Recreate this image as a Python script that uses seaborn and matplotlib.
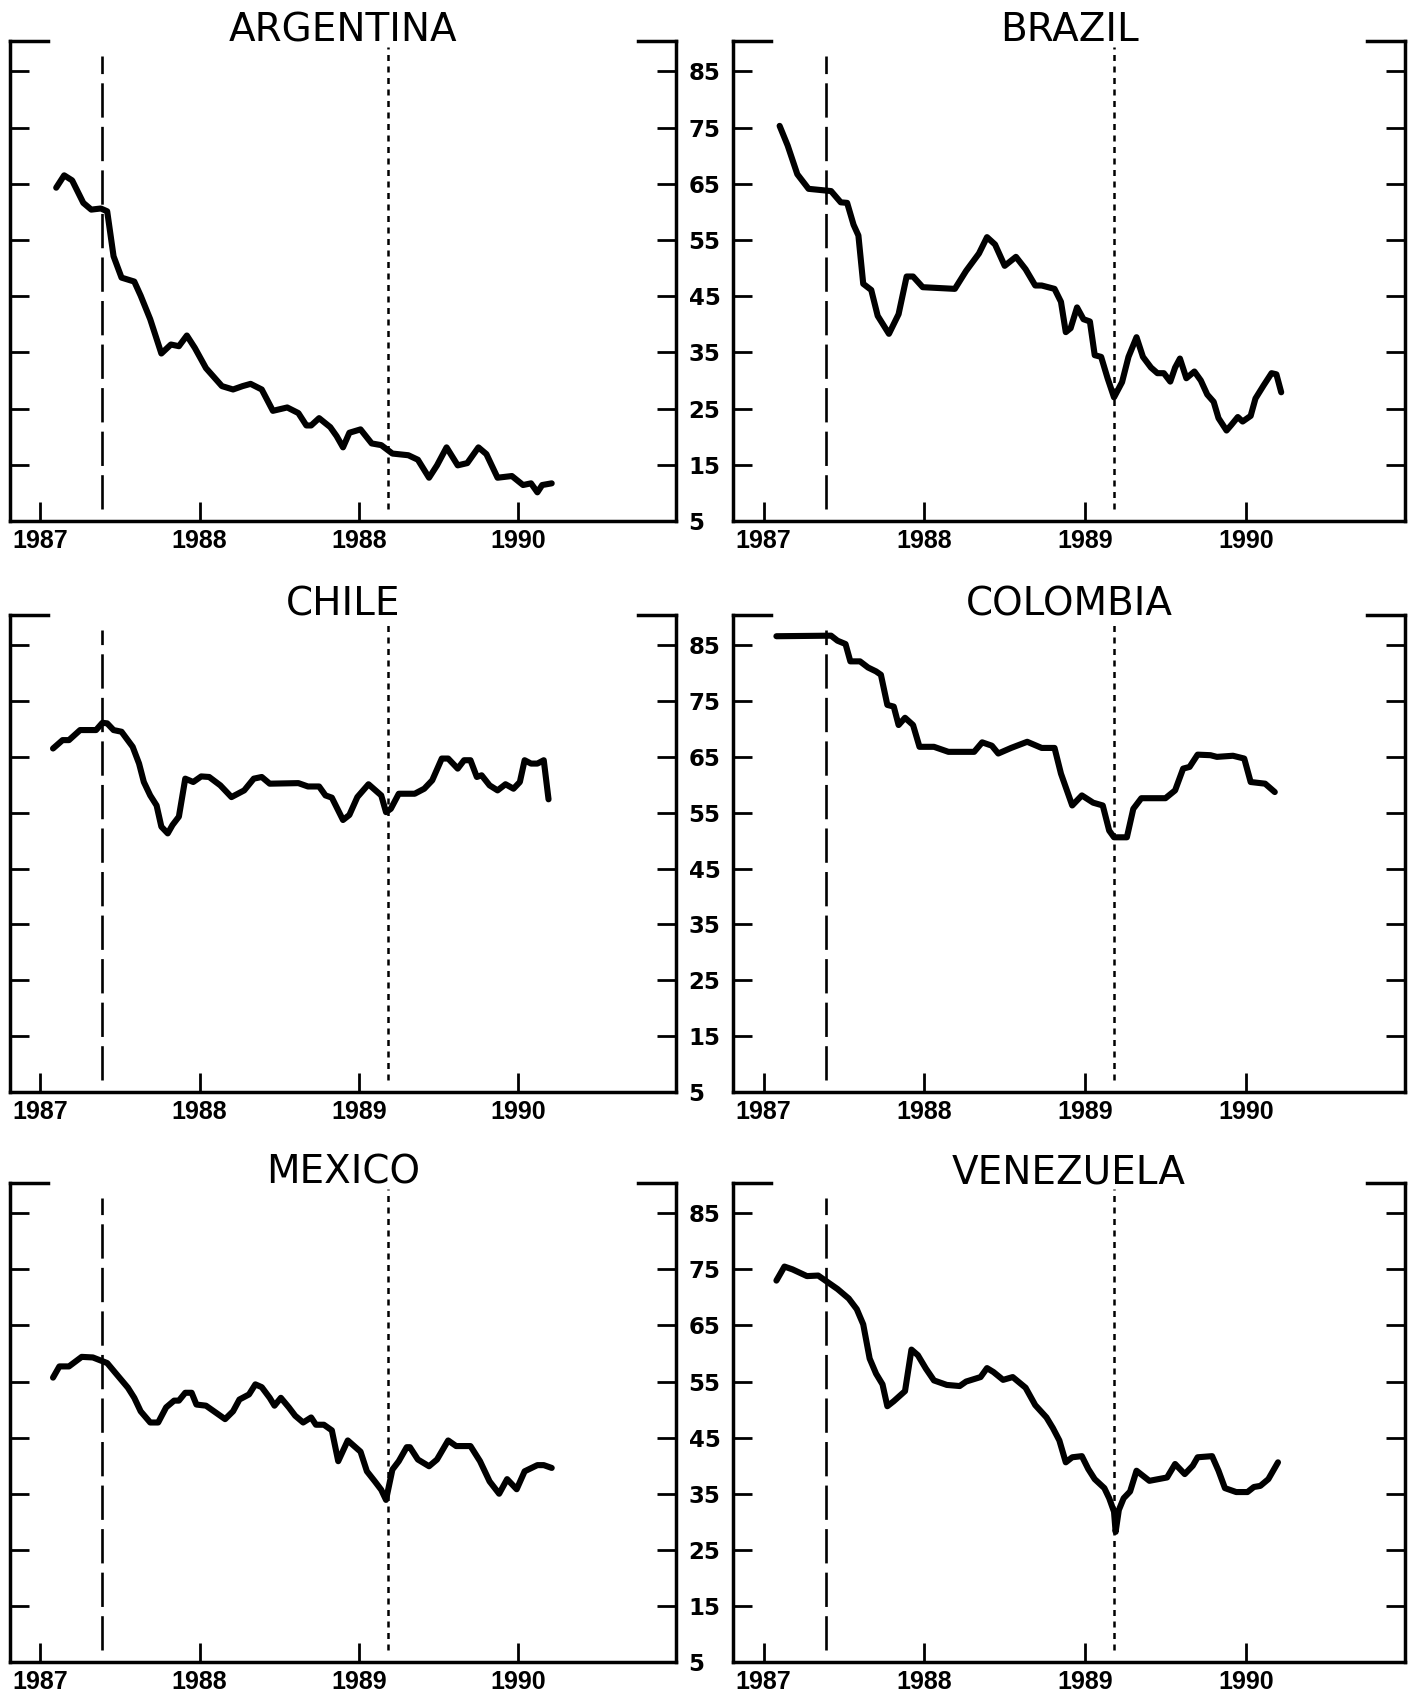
import matplotlib
matplotlib.use("Agg")
import matplotlib.pyplot as plt
import seaborn as sns
import pandas as pd

# ---------------- data ----------------
countries = ["ARGENTINA", "BRAZIL", "CHILE", "COLOMBIA", "MEXICO", "VENEZUELA"]

arg_x = [1987.10, 1987.15, 1987.20, 1987.27, 1987.32, 1987.38, 1987.42, 1987.46, 1987.51, 1987.59,
         1987.63, 1987.69, 1987.76, 1987.82, 1987.87, 1987.92, 1987.97, 1988.04, 1988.14, 1988.21,
         1988.27, 1988.32, 1988.39, 1988.46, 1988.55, 1988.62, 1988.67, 1988.70, 1988.75, 1988.82,
         1988.86, 1988.90, 1988.94, 1989.01, 1989.08, 1989.14, 1989.21, 1989.31, 1989.37, 1989.44,
         1989.49, 1989.55, 1989.62, 1989.68, 1989.75, 1989.80, 1989.87, 1989.96, 1990.03, 1990.08,
         1990.12, 1990.15, 1990.21]
arg_y = [64.3, 66.5, 65.6, 61.6, 60.4, 60.6, 60.1, 52.1, 48.3, 47.6,
         45.1, 40.9, 34.8, 36.4, 36.1, 38.0, 35.8, 32.2, 29.0, 28.4,
         29.0, 29.4, 28.4, 24.6, 25.2, 24.2, 22.0, 22.0, 23.3, 21.7,
         20.1, 18.1, 20.7, 21.3, 18.8, 18.5, 17.0, 16.7, 15.9, 12.7,
         14.9, 18.1, 14.9, 15.3, 18.1, 16.9, 12.7, 13.0, 11.4, 11.7,
         10.1, 11.4, 11.7]

bra_x = [1987.10, 1987.15, 1987.21, 1987.28, 1987.42, 1987.48, 1987.52, 1987.56, 1987.59, 1987.62,
         1987.67, 1987.71, 1987.78, 1987.84, 1987.89, 1987.93, 1987.99, 1988.19, 1988.26, 1988.34,
         1988.39, 1988.44, 1988.50, 1988.57, 1988.63, 1988.69, 1988.73, 1988.81, 1988.85, 1988.88,
         1988.91, 1988.95, 1988.99, 1989.03, 1989.06, 1989.10, 1989.14, 1989.18, 1989.23, 1989.27,
         1989.32, 1989.36, 1989.41, 1989.45, 1989.49, 1989.53, 1989.56, 1989.59, 1989.63, 1989.68,
         1989.72, 1989.76, 1989.80, 1989.83, 1989.88, 1989.91, 1989.95, 1989.98, 1990.03, 1990.06,
         1990.11, 1990.16, 1990.19, 1990.22]
bra_y = [75.3, 71.8, 66.7, 64.1, 63.7, 61.7, 61.6, 57.7, 55.8, 47.2,
         46.1, 41.5, 38.3, 41.8, 48.5, 48.5, 46.6, 46.3, 49.5, 52.6,
         55.5, 54.2, 50.4, 52.0, 49.8, 46.9, 46.9, 46.3, 44.0, 38.6,
         39.3, 43.0, 40.9, 40.5, 34.5, 34.2, 30.4, 27.0, 29.7, 34.2,
         37.7, 34.2, 32.3, 31.3, 31.3, 29.8, 32.3, 33.9, 30.4, 31.6,
         30.0, 27.5, 26.2, 23.3, 21.1, 22.1, 23.5, 22.7, 23.7, 26.8,
         29.1, 31.3, 31.1, 27.9]

chi_x = [1987.08, 1987.14, 1987.18, 1987.25, 1987.35, 1987.39, 1987.42, 1987.46, 1987.51, 1987.58,
         1987.62, 1987.65, 1987.69, 1987.73, 1987.76, 1987.80, 1987.83, 1987.87, 1987.91, 1987.96,
         1988.01, 1988.06, 1988.13, 1988.20, 1988.28, 1988.34, 1988.39, 1988.44, 1988.62, 1988.68,
         1988.75, 1988.79, 1988.83, 1988.90, 1988.94, 1988.99, 1989.06, 1989.14, 1989.17, 1989.20,
         1989.25, 1989.35, 1989.41, 1989.46, 1989.52, 1989.56, 1989.62, 1989.66, 1989.70, 1989.74,
         1989.77, 1989.82, 1989.87, 1989.92, 1989.97, 1990.01, 1990.04, 1990.08, 1990.12, 1990.16,
         1990.19]
chi_y = [66.5, 68.0, 68.0, 69.8, 69.8, 71.1, 71.0, 69.8, 69.5, 66.8,
         63.8, 60.5, 58.1, 56.3, 52.5, 51.3, 52.8, 54.3, 61.1, 60.5,
         61.5, 61.4, 59.9, 57.8, 59.0, 61.1, 61.4, 60.2, 60.3, 59.7,
         59.7, 58.1, 57.7, 53.7, 54.6, 57.8, 60.1, 58.1, 55.1, 55.7,
         58.4, 58.4, 59.3, 60.8, 64.7, 64.7, 62.9, 64.4, 64.4, 61.4,
         61.7, 59.9, 59.0, 60.1, 59.3, 60.5, 64.4, 63.8, 63.8, 64.4,
         57.4]

col_x = [1987.08, 1987.42, 1987.46, 1987.51, 1987.54, 1987.60, 1987.65, 1987.70, 1987.73, 1987.77,
         1987.81, 1987.84, 1987.88, 1987.93, 1987.97, 1988.06, 1988.15, 1988.31, 1988.36, 1988.42,
         1988.46, 1988.54, 1988.64, 1988.73, 1988.81, 1988.85, 1988.92, 1988.98, 1989.05, 1989.11,
         1989.15, 1989.18, 1989.26, 1989.30, 1989.35, 1989.50, 1989.56, 1989.61, 1989.65, 1989.70,
         1989.78, 1989.82, 1989.92, 1989.99, 1990.03, 1990.12, 1990.18]
col_y = [86.6, 86.7, 85.8, 85.2, 82.1, 82.1, 81.0, 80.3, 79.7, 74.3,
         74.0, 70.7, 72.0, 70.7, 66.8, 66.8, 65.9, 65.9, 67.6, 67.0,
         65.6, 66.6, 67.7, 66.6, 66.6, 62.0, 56.3, 58.1, 56.8, 56.3,
         51.8, 50.6, 50.6, 55.7, 57.6, 57.6, 59.0, 62.9, 63.2, 65.4,
         65.3, 65.0, 65.2, 64.7, 60.5, 60.2, 58.7]

mex_x = [1987.08, 1987.12, 1987.18, 1987.26, 1987.33, 1987.42, 1987.47, 1987.55, 1987.59, 1987.63,
         1987.69, 1987.74, 1987.79, 1987.84, 1987.87, 1987.91, 1987.95, 1987.98, 1988.04, 1988.11,
         1988.16, 1988.21, 1988.25, 1988.31, 1988.35, 1988.39, 1988.44, 1988.47, 1988.51, 1988.56,
         1988.60, 1988.65, 1988.70, 1988.73, 1988.78, 1988.83, 1988.87, 1988.93, 1989.01, 1989.05,
         1989.10, 1989.14, 1989.17, 1989.21, 1989.25, 1989.30, 1989.32, 1989.37, 1989.44, 1989.49,
         1989.56, 1989.61, 1989.70, 1989.76, 1989.82, 1989.88, 1989.93, 1989.99, 1990.04, 1990.12,
         1990.16, 1990.21]
mex_y = [55.7, 57.7, 57.7, 59.4, 59.3, 58.3, 56.6, 53.9, 52.1, 49.7,
         47.7, 47.7, 50.4, 51.6, 51.6, 53.0, 53.0, 50.9, 50.7, 49.3,
         48.3, 49.7, 51.8, 52.7, 54.5, 54.0, 52.1, 50.7, 52.1, 50.4,
         48.9, 47.7, 48.6, 47.3, 47.3, 46.3, 40.8, 44.5, 42.5, 39.0,
         37.2, 35.7, 33.9, 39.3, 40.8, 43.3, 43.3, 41.1, 39.9, 41.1,
         44.5, 43.5, 43.5, 40.8, 37.2, 35.0, 37.6, 35.8, 39.0, 40.1,
         40.1, 39.6]

ven_x = [1987.08, 1987.13, 1987.18, 1987.27, 1987.34, 1987.39, 1987.46, 1987.53, 1987.58, 1987.62,
         1987.66, 1987.70, 1987.74, 1987.77, 1987.81, 1987.88, 1987.92, 1987.96, 1988.01, 1988.06,
         1988.14, 1988.22, 1988.26, 1988.35, 1988.39, 1988.43, 1988.49, 1988.55, 1988.63, 1988.69,
         1988.76, 1988.80, 1988.84, 1988.88, 1988.92, 1988.98, 1989.02, 1989.06, 1989.12, 1989.15,
         1989.18, 1989.19, 1989.21, 1989.24, 1989.28, 1989.32, 1989.36, 1989.40, 1989.51, 1989.56,
         1989.62, 1989.67, 1989.70, 1989.79, 1989.83, 1989.87, 1989.94, 1990.01, 1990.05, 1990.09,
         1990.14, 1990.20]
ven_y = [73.0, 75.5, 75.0, 73.8, 73.9, 72.9, 71.5, 69.8, 67.9, 65.2,
         59.1, 56.4, 54.5, 50.6, 51.5, 53.3, 60.7, 59.7, 57.3, 55.2,
         54.4, 54.2, 55.0, 55.8, 57.4, 56.7, 55.3, 55.8, 53.9, 50.8,
         48.6, 46.7, 44.5, 40.6, 41.5, 41.7, 39.4, 37.6, 36.0, 34.2,
         31.8, 28.2, 32.1, 34.2, 35.4, 39.1, 38.2, 37.3, 37.9, 40.3,
         38.5, 40.0, 41.5, 41.7, 39.1, 36.0, 35.3, 35.3, 36.2, 36.4,
         37.6, 40.6]

series_x = [arg_x, bra_x, chi_x, col_x, mex_x, ven_x]
series_y = [arg_y, bra_y, chi_y, col_y, mex_y, ven_y]

event_dashed = 1987.39
event_dotted = 1989.18

year_ticks = [1987, 1988, 1989, 1990]
year_labels_default = ["1987", "1988", "1989", "1990"]
year_labels_argentina = ["1987", "1988", "1988", "1990"]
y_ticks = [5, 15, 25, 35, 45, 55, 65, 75, 85]

# ---------------- styling ----------------
sns.set_theme(style="ticks")
plt.rcParams["font.family"] = ["DejaVu Sans"]

W, H = 1411, 1700
fig = plt.figure(figsize=(W / 100, H / 100), dpi=100)

col_left = [10 / W, 733 / W]
col_width = [666 / W, 672 / W]
row_top = [41, 615, 1183]
row_bot = [521, 1092, 1662]

XLIM = (1986.81, 1990.99)
YLIM = (5, 90.4)
LW_SPINE = 2.5

for i, name in enumerate(countries):
    r, c = divmod(i, 2)
    rect = [col_left[c], 1 - row_bot[r] / H, col_width[c], (row_bot[r] - row_top[r]) / H]
    ax = fig.add_axes(rect)
    ax.set_facecolor("white")

    df = pd.DataFrame({"year": series_x[i], "value": series_y[i]})
    sns.lineplot(data=df, x="year", y="value", ax=ax, color="black", lw=4.4,
                 solid_joinstyle="round", solid_capstyle="round")

    ax.vlines(event_dashed, 7.1, 87.7, colors="black", lw=1.9,
              linestyles=(0, (13, 3.5)))
    ax.vlines(event_dotted, 7.1, 89.3, colors="black", lw=1.8,
              linestyles=(0, (2.4, 2.2)))

    ax.set_xlim(*XLIM)
    ax.set_ylim(*YLIM)
    ax.set_xlabel("")
    ax.set_ylabel("")

    ax.set_xticks(year_ticks)
    ax.set_xticklabels(year_labels_argentina if name == "ARGENTINA" else year_labels_default,
                       fontsize=18, fontweight="bold", family=["Liberation Sans", "DejaVu Sans"])
    ax.set_yticks(y_ticks)
    ax.set_yticklabels([str(v) for v in y_ticks], fontsize=16.5, fontweight="bold")

    ax.tick_params(axis="x", direction="in", length=14, width=2.0, bottom=True, top=False,
                   pad=6, colors="black")
    ax.tick_params(axis="y", direction="in", length=14, width=2.0, left=True, right=True,
                   labelleft=False, labelright=(c == 0), pad=9, colors="black")

    for s in ["left", "right", "bottom"]:
        ax.spines[s].set_visible(True)
        ax.spines[s].set_linewidth(LW_SPINE)
        ax.spines[s].set_color("black")
    ax.spines["top"].set_visible(False)
    stub = 0.057
    for xs in ([0, stub], [1 - stub, 1]):
        ax.plot(xs, [1, 1], transform=ax.transAxes, color="black", lw=LW_SPINE,
                clip_on=False, solid_capstyle="projecting")

    ax.text(0.5, 1.0, name, transform=ax.transAxes, ha="center", va="baseline",
            fontsize=28, fontweight="normal", color="black")

fig.savefig("out.png", dpi=100, facecolor="white")
